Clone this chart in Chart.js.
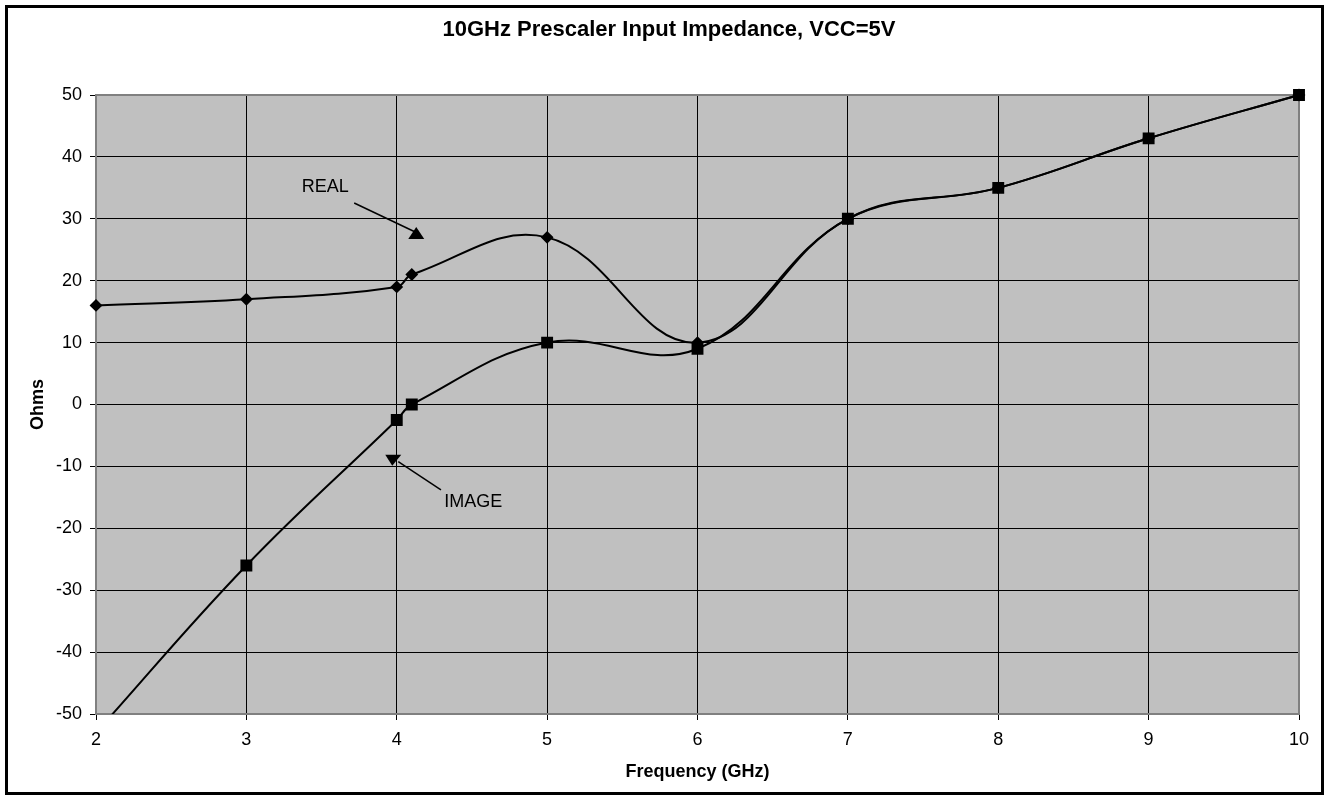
<!DOCTYPE html>
<html>
<head>
<meta charset="utf-8">
<title>10GHz Prescaler Input Impedance, VCC=5V</title>
<script src="https://cdn.jsdelivr.net/npm/chart.js@4/dist/chart.umd.min.js"></script>
<style>
    body { margin: 0; background: #fff; }
    canvas { display: block; }
</style>
</head>
<body>
<canvas id="chart" width="1327" height="797"></canvas>
<script>
// ============================================
// values
// ============================================
const realFreq = [2, 3, 4, 4.1, 5, 6, 7, 8, 9, 10];
const realOhms = [16, 17, 19, 21, 27, 10, 30, 35, 43, 50];

const imageFreq = [2, 3, 4, 4.1, 5, 6, 7, 8, 9, 10];
const imageOhms = [-53, -26, -2.5, 0, 10, 9, 30, 35, 43, 50];

const freqTicks = [2, 3, 4, 5, 6, 7, 8, 9, 10];
const ohmTicks = [-50, -40, -30, -20, -10, 0, 10, 20, 30, 40, 50];

const chartTitle = '10GHz Prescaler Input Impedance, VCC=5V';
const xTitle = 'Frequency (GHz)';
const yTitle = 'Ohms';

// callout labels (text position + arrow, in data units)
const callouts = [
    { text: 'REAL',  at: [3.525, 35.1],  from: [3.717, 32.55], to: [4.123, 27.87], head: 'up' },
    { text: 'IMAGE', at: [4.509, -15.75], from: [4.294, -13.81], to: [4.010, -9.24], head: 'down' }
];

const FONT = '"Liberation Sans", Arial, sans-serif';

const toPoints = (xs, ys) => xs.map((x, i) => ({ x, y: ys[i] }));

// background, frame, titles and callouts
const decorations = {
    id: 'decorations',
    beforeDraw(chart) {
        const { ctx, chartArea: a } = chart;
        ctx.save();
        ctx.fillStyle = '#fff';
        ctx.fillRect(0, 0, chart.width, chart.height);
        ctx.fillStyle = '#c0c0c0';
        ctx.fillRect(a.left, a.top, a.right - a.left, a.bottom - a.top);
        ctx.restore();
    },
    beforeDatasetsDraw(chart) {
        const { ctx, chartArea: a } = chart;
        ctx.save();
        ctx.strokeStyle = '#808080';
        ctx.lineWidth = 2;
        ctx.strokeRect(a.left, a.top, a.right - a.left, a.bottom - a.top);
        ctx.restore();
    },
    afterDraw(chart) {
        const { ctx, chartArea: a, scales } = chart;
        ctx.save();

        // outer frame
        ctx.strokeStyle = '#000';
        ctx.lineWidth = 3;
        ctx.strokeRect(6.5, 6.5, 1316, 787);

        // chart title
        ctx.fillStyle = '#000';
        ctx.font = 'bold 22px ' + FONT;
        ctx.textAlign = 'center';
        ctx.textBaseline = 'middle';
        ctx.fillText(chartTitle, 669, 30);

        // axis titles
        ctx.font = 'bold 18px ' + FONT;
        ctx.textBaseline = 'alphabetic';
        ctx.fillText(xTitle, (a.left + a.right) / 2, 777);
        ctx.save();
        ctx.translate(43, (a.top + a.bottom) / 2);
        ctx.rotate(-Math.PI / 2);
        ctx.fillText(yTitle, 0, 0);
        ctx.restore();

        // callouts
        ctx.font = '18px ' + FONT;
        ctx.textBaseline = 'middle';
        ctx.lineWidth = 1.5;
        callouts.forEach(c => {
            const tx = scales.x.getPixelForValue(c.at[0]);
            const ty = scales.y.getPixelForValue(c.at[1]);
            ctx.fillText(c.text, tx, ty);

            const x1 = scales.x.getPixelForValue(c.from[0]);
            const y1 = scales.y.getPixelForValue(c.from[1]);
            const x2 = scales.x.getPixelForValue(c.to[0]);
            const y2 = scales.y.getPixelForValue(c.to[1]);
            ctx.beginPath();
            ctx.moveTo(x1, y1);
            ctx.lineTo(x2, y2);
            ctx.stroke();

            ctx.beginPath();
            if (c.head === 'up') {
                ctx.moveTo(x2 + 1, y2 - 5);
                ctx.lineTo(x2 + 9, y2 + 7);
                ctx.lineTo(x2 - 7, y2 + 7);
            } else {
                ctx.moveTo(x2 - 13, y2 - 7);
                ctx.lineTo(x2 + 3, y2 - 7);
                ctx.lineTo(x2 - 6, y2 + 4);
            }
            ctx.closePath();
            ctx.fill();
        });

        ctx.restore();
    }
};

new Chart(document.getElementById('chart'), {
    type: 'line',
    data: {
        datasets: [
            {
                label: 'REAL',
                data: toPoints(realFreq, realOhms),
                borderColor: '#000',
                backgroundColor: '#000',
                borderWidth: 2,
                pointStyle: 'rectRot',
                pointRadius: 5,
                tension: 0.4,
                clip: { left: 10, top: 10, right: 10, bottom: 0 }
            },
            {
                label: 'IMAGE',
                data: toPoints(imageFreq, imageOhms),
                borderColor: '#000',
                backgroundColor: '#000',
                borderWidth: 2,
                pointStyle: 'rect',
                pointRadius: 7,
                tension: 0.4,
                clip: { left: 10, top: 10, right: 10, bottom: 0 }
            }
        ]
    },
    options: {
        responsive: false,
        animation: false,
        devicePixelRatio: 1,
        layout: {
            padding: { left: 0, top: 95, right: 28, bottom: 0 }
        },
        plugins: {
            legend: { display: false },
            title: { display: false },
            tooltip: { enabled: false }
        },
        scales: {
            x: {
                type: 'linear',
                min: 2,
                max: 10,
                afterBuildTicks: s => { s.ticks = freqTicks.map(v => ({ value: v })); },
                afterFit: s => { s.height = 83; },
                grid: { color: '#000', lineWidth: 1, tickLength: 6, tickColor: '#000' },
                border: { display: false },
                ticks: {
                    color: '#000',
                    font: { family: FONT, size: 18 },
                    padding: 9,
                    maxRotation: 0
                }
            },
            y: {
                type: 'linear',
                min: -50,
                max: 50,
                afterBuildTicks: s => { s.ticks = ohmTicks.map(v => ({ value: v })); },
                afterFit: s => { s.width = 96; },
                grid: { color: '#000', lineWidth: 1, tickLength: 6, tickColor: '#000' },
                border: { display: false },
                ticks: {
                    color: '#000',
                    font: { family: FONT, size: 18 },
                    padding: 8
                }
            }
        }
    },
    plugins: [decorations]
});
</script>
</body>
</html>
